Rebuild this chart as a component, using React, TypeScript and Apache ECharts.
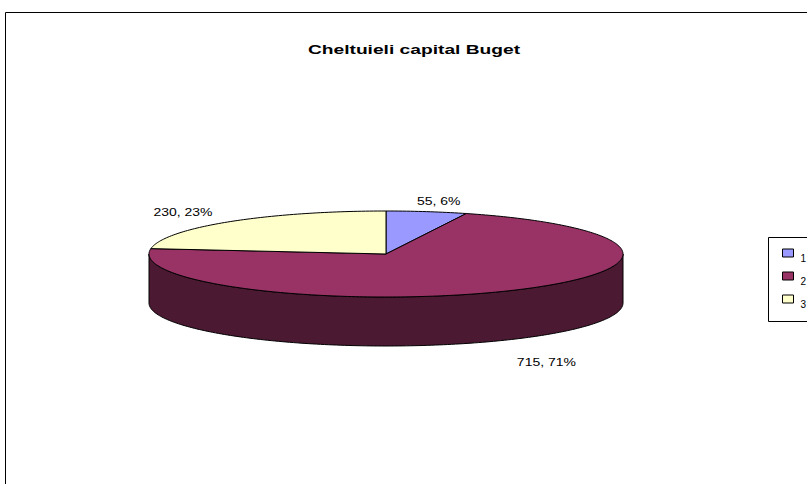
import React, { useEffect, useRef } from "react";
import * as echarts from "echarts";

const chartTitle = "Cheltuieli capital Buget";
const categories = ["1", "2", "3"];
const values = [55, 715, 230];
const percents = [6, 71, 23];
const topColors = ["#9999FF", "#993366", "#FFFFCC"];
const sideColors = ["#4C4C80", "#4C1933", "#808066"];

const CX = 386;
const CY = 254;
const RX = 237;
const RY = 43;
const DEPTH = 49;
const FONT = '"Liberation Sans", Arial, sans-serif';

function pt(theta: number, dy = 0): number[] {
  const r = (theta * Math.PI) / 180;
  return [CX + RX * Math.sin(r), CY - RY * Math.cos(r) + dy];
}

function arc(a: number, b: number, dy = 0): number[][] {
  const pts: number[][] = [];
  const n = Math.max(2, Math.ceil(Math.abs(b - a)));
  for (let k = 0; k <= n; k++) pts.push(pt(a + ((b - a) * k) / n, dy));
  return pts;
}

const total = values.reduce((s, v) => s + v, 0);

const renderItem = (params: any, api: any) => {
  const i = params.seriesIndex;
  const v = api.value(0);
  let before = 0;
  for (let k = 0; k < i; k++) before += values[k];
  const a = (before / total) * 360;
  const b = a + (v / total) * 360;
  const children: any[] = [];
  const s = Math.max(a, 90);
  const e = Math.min(b, 270);
  if (e > s) {
    const side = [...arc(s, e), ...arc(e, s, DEPTH)];
    children.push({
      type: "polygon",
      shape: { points: side },
      style: { fill: sideColors[i], stroke: "#000", lineWidth: 1 },
    });
  }
  children.push({
    type: "polygon",
    shape: { points: [[CX, CY], ...arc(a, b)] },
    style: { fill: topColors[i], stroke: "#000", lineWidth: 1 },
  });
  const mid = (a + b) / 2;
  const r = (mid * Math.PI) / 180;
  const c = Math.cos(r);
  const lx = CX + 307 * Math.sin(r);
  const ly = CY - 47 * c + (c < 0 ? DEPTH + 20 : -6);
  children.push({
    type: "text",
    x: lx,
    y: ly,
    scaleX: 1.4,
    style: {
      text: `${v}, ${percents[i]}%`,
      font: `10px ${FONT}`,
      fill: "#000",
      align: "center",
      verticalAlign: "middle",
      textAlign: "center",
      textVerticalAlign: "middle",
    },
  });
  return { type: "group", children };
};

export default function App() {
  const ref = useRef<HTMLDivElement>(null);
  useEffect(() => {
    if (!ref.current) return;
    const chart = echarts.init(ref.current, null, { renderer: "svg" });
    chart.setOption({
      animation: false,
      backgroundColor: "#fff",
      graphic: [
        {
          type: "rect",
          silent: true,
          z: 0,
          shape: { x: 5.5, y: 12.5, width: 900, height: 600 },
          style: { fill: "none", stroke: "#000", lineWidth: 1 },
        },
        {
          type: "rect",
          silent: true,
          z: 0,
          shape: { x: 768.5, y: 237.5, width: 60, height: 84 },
          style: { fill: "#fff", stroke: "#000", lineWidth: 1 },
        },
        {
          type: "text",
          x: 414,
          y: 50,
          scaleX: 1.6,
          style: {
            text: chartTitle,
            font: `bold 12px ${FONT}`,
            fill: "#000",
            align: "center",
            verticalAlign: "middle",
            textAlign: "center",
            textVerticalAlign: "middle",
          },
        },
      ],
      legend: {
        orient: "vertical",
        left: 777,
        top: 238,
        icon: "rect",
        itemWidth: 11,
        itemHeight: 8,
        itemGap: 3,
        selectedMode: false,
        itemStyle: { borderColor: "#000", borderWidth: 1 },
        formatter: "{a|{name}}",
        textStyle: {
          fontSize: 10,
          fontFamily: FONT,
          color: "#000",
          rich: {
            a: {
              fontSize: 10,
              fontFamily: FONT,
              color: "#000",
              lineHeight: 12,
              padding: [10, 0, 0, 2],
            },
          },
        },
        data: categories,
      },
      series: categories.map((name, i) => ({
        type: "custom",
        name,
        coordinateSystem: "none",
        itemStyle: { color: topColors[i], borderColor: "#000", borderWidth: 1 },
        renderItem,
        data: [{ value: [values[i]], name }],
      })),
    });
    return () => chart.dispose();
  }, []);
  return (
    <div
      ref={ref}
      style={{ position: "fixed", left: 0, top: 0, width: 807, height: 484 }}
    />
  );
}
